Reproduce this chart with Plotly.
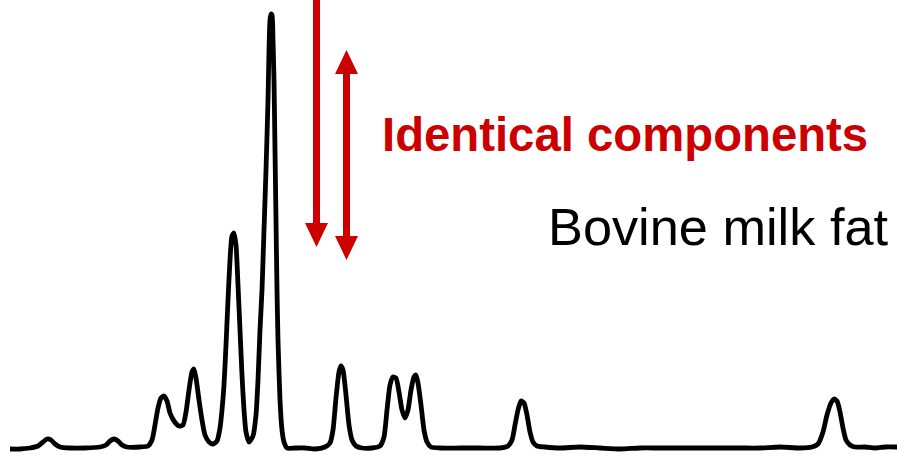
import plotly.graph_objects as go

# Chromatogram trace (retention position, detector response)
retention = [10, 20, 30, 38, 43, 47, 51, 55, 60, 70, 85, 100, 106, 110, 114, 118, 122, 127, 140,
             148, 152, 155, 158, 161, 164, 167, 170, 174, 179, 183, 186, 189, 192, 194, 196, 199,
             202, 205, 209, 213, 217, 220, 222, 224, 226, 228, 230, 232, 234, 236, 238, 240, 242,
             244, 246, 249, 253, 256, 258, 260, 262, 264, 266, 268, 269, 270, 271, 272, 273, 274,
             275, 276, 277, 278, 280, 282, 284, 287, 295, 305, 315, 325, 330, 333, 336, 339, 341,
             343, 346, 349, 352, 356, 362, 372, 380, 384, 387, 390, 393, 396, 399, 402, 405, 408,
             411, 414, 416, 418, 421, 424, 427, 431, 440, 460, 480, 500, 508, 512, 515, 518, 521,
             524, 527, 530, 533, 537, 545, 560, 580, 600, 620, 640, 660, 680, 700, 720, 740, 760,
             780, 800, 812, 818, 823, 827, 831, 834, 837, 840, 843, 846, 850, 855, 865, 875, 885, 897]
response = [6, 6, 7, 9, 13, 16, 15, 11, 8, 7, 7, 8, 10, 14, 16, 14, 10, 8, 8,
            9, 15, 30, 47, 57, 59, 54, 42, 34, 29, 30, 43, 65, 83, 86, 77, 55,
            35, 20, 13, 11, 14, 27, 45, 70, 110, 155, 195, 219, 222, 210, 170, 125, 80,
            45, 23, 13, 19, 40, 75, 125, 165, 225, 285, 355, 405, 435, 441, 440, 415, 375,
            305, 235, 165, 115, 55, 25, 13, 7, 7, 7, 6, 8, 12, 25, 57, 83, 89,
            85, 60, 30, 15, 9, 7, 7, 9, 18, 45, 70, 78, 77, 63, 45, 37, 45,
            65, 78, 80, 72, 50, 25, 13, 8, 7, 7, 7, 7, 9, 15, 30, 45, 54,
            52, 40, 23, 13, 9, 8, 7, 8, 7, 6, 7, 7, 7, 7, 7, 7, 7,
            8, 7, 8, 11, 23, 40, 52, 56, 54, 43, 27, 15, 10, 8, 8, 7, 8, 8]

# Red arrows: x centre, top end, bottom end (response units), head at top?, head at bottom?
arrow_x = [316.5, 346.5]
arrow_top = [460, 405]
arrow_bottom = [208, 195]
arrow_head_top = [False, True]
arrow_head_bottom = [True, True]

label_red = "Identical components"
label_black = "Bovine milk fat"

RED = "#CC0000"
SHAFT = 3.5
HEAD_HALF = 11.5
HEAD_LEN = 24

fig = go.Figure()
fig.add_trace(go.Scatter(x=retention, y=response, mode="lines",
                         line=dict(color="black", width=4.8, shape="spline", smoothing=0.6),
                         hoverinfo="skip", showlegend=False))

shapes = []
for xc, yt, yb, ht, hb in zip(arrow_x, arrow_top, arrow_bottom, arrow_head_top, arrow_head_bottom):
    s_top = yt - (HEAD_LEN - 2 if ht else 0)
    s_bot = yb + (HEAD_LEN - 2 if hb else 0)
    shapes.append(dict(type="rect", xref="x", yref="y", x0=xc - SHAFT, x1=xc + SHAFT,
                       y0=s_bot, y1=s_top, fillcolor=RED, line=dict(width=0)))
    if ht:
        shapes.append(dict(type="path", xref="x", yref="y",
                           path=f"M {xc-HEAD_HALF},{yt-HEAD_LEN} L {xc+HEAD_HALF},{yt-HEAD_LEN} L {xc},{yt} Z",
                           fillcolor=RED, line=dict(width=0)))
    if hb:
        shapes.append(dict(type="path", xref="x", yref="y",
                           path=f"M {xc-HEAD_HALF},{yb+HEAD_LEN} L {xc+HEAD_HALF},{yb+HEAD_LEN} L {xc},{yb} Z",
                           fillcolor=RED, line=dict(width=0)))

fig.update_layout(
    width=897, height=455,
    margin=dict(l=0, r=0, t=0, b=0),
    paper_bgcolor="white", plot_bgcolor="white",
    xaxis=dict(range=[0, 897], visible=False, fixedrange=True),
    yaxis=dict(range=[0, 455], visible=False, fixedrange=True),
    shapes=shapes,
    annotations=[
        dict(x=380, y=455 - 134.5, xref="x", yref="y", text="<b>" + label_red + "</b>",
             showarrow=False, xanchor="left", yanchor="middle",
             font=dict(family="Liberation Sans, Arial, sans-serif", size=47.3, color=RED)),
        dict(x=546, y=455 - 226.5, xref="x", yref="y", text=label_black, showarrow=False,
             xanchor="left", yanchor="middle",
             font=dict(family="Liberation Sans, Arial, sans-serif", size=52.3, color="black")),
    ],
)

fig.write_html("out.html")
